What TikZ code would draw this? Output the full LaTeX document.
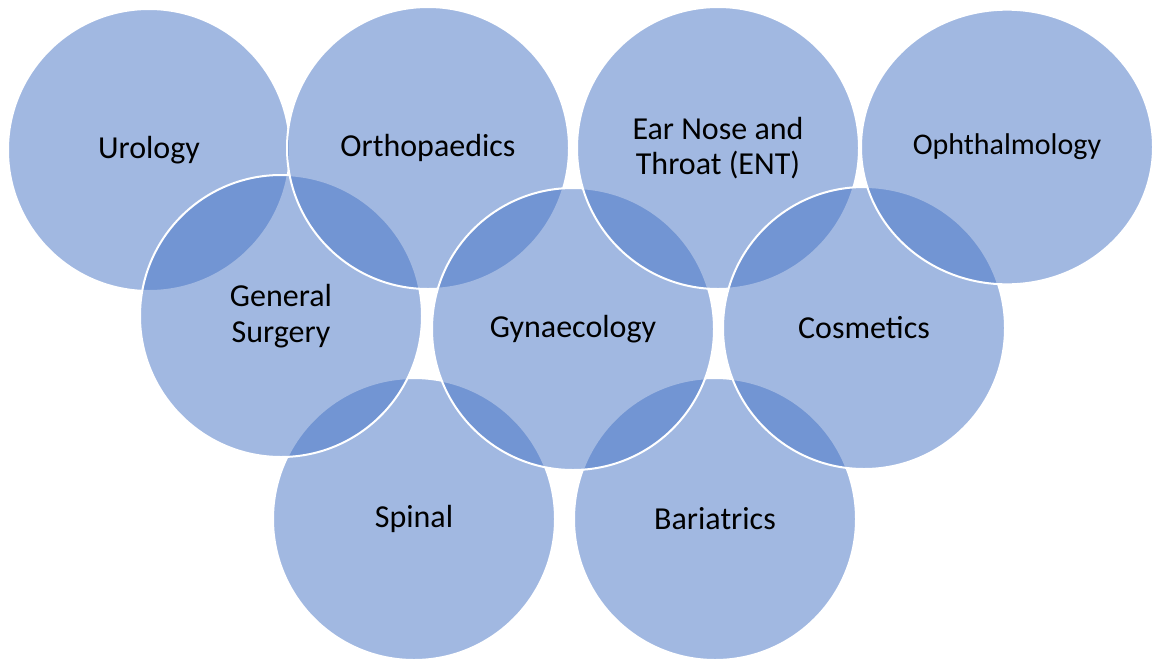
\documentclass[tikz,border=0pt]{standalone}
\usepackage{fontspec}
\setmainfont{Carlito}
\usetikzlibrary{shapes.geometric}
\definecolor{bubblefill}{HTML}{4472C4}

\begin{document}
\begin{tikzpicture}[x=0.75pt, y=-0.75pt, bubble/.style={circle, draw=white, line width=1.5pt, fill=bubblefill, fill opacity=0.5, text opacity=1, minimum size=211.5pt, inner sep=0pt, align=center, font=\fontsize{24}{26.5}\selectfont}, widebubble/.style={bubble, ellipse, minimum width=219pt, minimum height=206pt, font=\fontsize{22.5}{26.5}\selectfont}]
\useasboundingbox (0,0) rectangle (1156,661);
\node[bubble] (spinal) at (414,519) {Spinal};
\node[bubble] (bari) at (715,519) {Bariatrics};
\node[bubble] (uro) at (149,150) {Urology};
\node[bubble] (gensurg) at (281,316) {General\\Surgery};
\node[bubble] (ortho) at (428,148) {Orthopaedics};
\node[bubble] (gyn) at (573,329) {Gynaecology};
\node[bubble] (ent) at (718,148) {Ear Nose and\\Throat (ENT)};
\node[bubble] (cosm) at (864,328) {Cosmetics};
\node[widebubble] (ophth) at (1007,147) {Ophthalmology};
\end{tikzpicture}
\end{document}
